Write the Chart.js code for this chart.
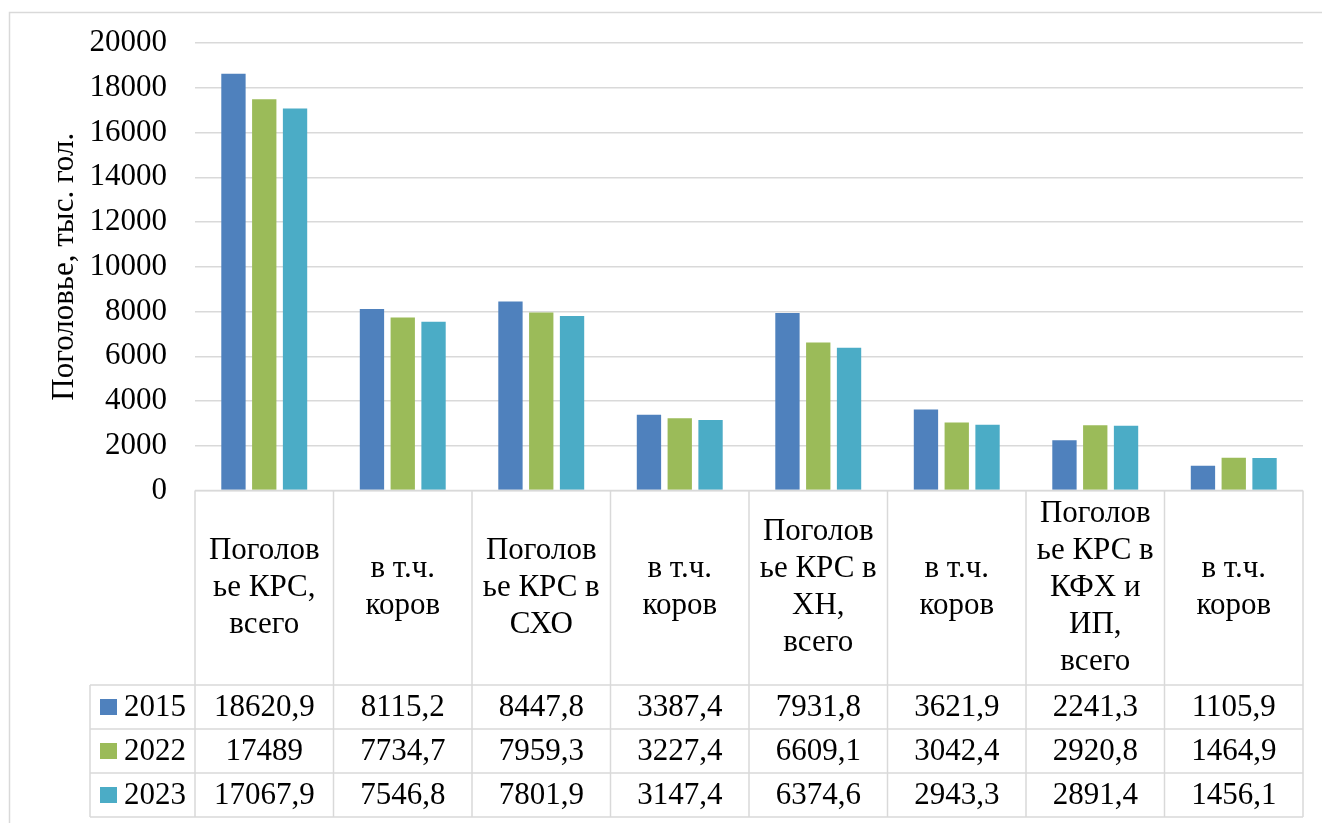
<!DOCTYPE html>
<html lang="ru">
<head>
<meta charset="utf-8">
<title>Поголовье КРС</title>
<script src="https://cdn.jsdelivr.net/npm/chart.js@4/dist/chart.umd.min.js"></script>
<style>
  html, body { margin: 0; padding: 0; background: #ffffff; }
  canvas { display: block; }
</style>
</head>
<body>
<canvas id="chart" width="1322" height="823"></canvas>
<script>
// Categories (multi-line headers of the data table)
const categories = [
  ["Поголов", "ье КРС,", "всего"],
  ["в т.ч.", "коров"],
  ["Поголов", "ье КРС в", "СХО"],
  ["в т.ч.", "коров"],
  ["Поголов", "ье КРС в", "ХН,", "всего"],
  ["в т.ч.", "коров"],
  ["Поголов", "ье КРС в", "КФХ и", "ИП,", "всего"],
  ["в т.ч.", "коров"]
];

// Series, тыс. гол.
const years = ["2015", "2022", "2023"];
const values2015 = [18620.9, 8115.2, 8447.8, 3387.4, 7931.8, 3621.9, 2241.3, 1105.9];
const values2022 = [17489, 7734.7, 7959.3, 3227.4, 6609.1, 3042.4, 2920.8, 1464.9];
const values2023 = [17067.9, 7546.8, 7801.9, 3147.4, 6374.6, 2943.3, 2891.4, 1456.1];

const seriesColors = ["#4F81BD", "#9BBB59", "#4BACC6"];
const yTitle = "Поголовье, тыс. гол.";

const FONT = "\"Times New Roman\", \"Liberation Serif\", \"DejaVu Serif\", serif";
const LINE = "#d9d9d9";

function fmt(v) {
  return String(v).replace(".", ",");
}

// Frame around the whole chart
const framePlugin = {
  id: "frame",
  beforeDraw(chart) {
    const ctx = chart.ctx;
    ctx.save();
    ctx.fillStyle = "#ffffff";
    ctx.fillRect(0, 0, chart.width, chart.height);
    ctx.strokeStyle = LINE;
    ctx.lineWidth = 1.5;
    ctx.strokeRect(9.5, 12.5, chart.width + 20, chart.height + 20);
    ctx.restore();
  }
};

// Data table under the plot: category headers, legend keys and values
const dataTablePlugin = {
  id: "dataTable",
  afterDraw(chart) {
    const ctx = chart.ctx;
    const x = chart.scales.x;
    const area = chart.chartArea;
    const n = chart.data.labels.length;
    const top = area.bottom;
    const headerH = 194.5;
    const rowH = 44;
    const rowsTop = top + headerH;
    const legendLeft = 90;
    const sets = chart.data.datasets;
    const bottom = rowsTop + rowH * sets.length;

    ctx.save();
    ctx.strokeStyle = LINE;
    ctx.lineWidth = 1.5;

    // horizontal rules
    ctx.beginPath();
    ctx.moveTo(x.left, top);
    ctx.lineTo(x.right, top);
    for (let r = 0; r <= sets.length; r++) {
      const yy = rowsTop + r * rowH;
      ctx.moveTo(legendLeft, yy);
      ctx.lineTo(x.right, yy);
    }
    // vertical rules
    for (let i = 0; i <= n; i++) {
      const xx = x.getPixelForValue(i - 0.5);
      ctx.moveTo(xx, top);
      ctx.lineTo(xx, bottom);
    }
    ctx.moveTo(legendLeft, rowsTop);
    ctx.lineTo(legendLeft, bottom);
    ctx.stroke();

    // header text
    ctx.fillStyle = "#000000";
    ctx.font = "31px " + FONT;
    ctx.textAlign = "center";
    ctx.textBaseline = "middle";
    const lh = 37;
    chart.data.labels.forEach((lines, i) => {
      const cx = x.getPixelForValue(i);
      const cy = top + headerH / 2 - 2;
      const y0 = cy - (lines.length - 1) * lh / 2;
      lines.forEach((t, k) => ctx.fillText(t, cx, y0 + k * lh + 2));
    });

    // legend keys and values
    sets.forEach((ds, r) => {
      const cy = rowsTop + r * rowH + rowH / 2;
      ctx.fillStyle = ds.backgroundColor;
      ctx.fillRect(100, cy - 8, 17, 16);
      ctx.fillStyle = "#000000";
      ctx.textAlign = "left";
      ctx.fillText(ds.label, 124, cy + 1);
      ctx.textAlign = "center";
      ds.data.forEach((v, i) => {
        ctx.fillText(fmt(v), x.getPixelForValue(i), cy + 1);
      });
    });
    ctx.restore();
  }
};

const seriesData = [values2015, values2022, values2023];

new Chart(document.getElementById("chart"), {
  type: "bar",
  data: {
    labels: categories,
    datasets: years.map((y, i) => ({
      label: y,
      data: seriesData[i],
      backgroundColor: seriesColors[i],
      borderWidth: 0,
      categoryPercentage: 0.667,
      barPercentage: 0.79
    }))
  },
  options: {
    responsive: false,
    animation: false,
    layout: { padding: { left: 46, right: 19, top: 43, bottom: 332.5 } },
    plugins: {
      legend: { display: false },
      tooltip: { enabled: false }
    },
    scales: {
      x: {
        display: false
      },
      y: {
        min: 0,
        max: 20000,
        ticks: {
          stepSize: 2000,
          color: "#000000",
          padding: 28,
          font: { family: FONT, size: 31 },
          callback: (v) => String(v)
        },
        grid: { color: LINE, lineWidth: 1.5, drawTicks: false },
        border: { display: false },
        title: {
          display: true,
          text: yTitle,
          color: "#000000",
          padding: { top: 0, bottom: 0 },
          font: { family: FONT, size: 31 }
        },
        afterFit(scale) {
          scale.width = 149;
          scale.paddingTop = 0;
          scale.paddingBottom = 0;
        }
      }
    }
  },
  plugins: [framePlugin, dataTablePlugin]
});
</script>
</body>
</html>
